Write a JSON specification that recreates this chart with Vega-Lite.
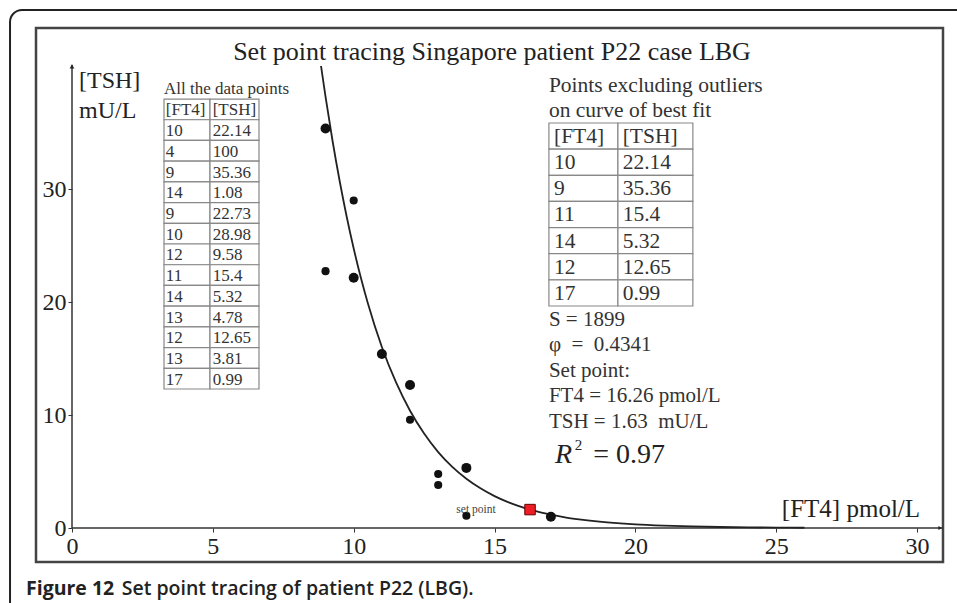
{
  "$schema": "https://vega.github.io/schema/vega-lite/v6.json",
  "width": 907,
  "height": 534,
  "autosize": {"type": "none"},
  "padding": {"left": 36, "top": 28, "right": 14, "bottom": 41},
  "background": "white",
  "config": {"view": {"stroke": "#444", "strokeWidth": 2.5}, "font": "Liberation Serif"},
  "data": {"values": [{}]},
  "datasets": {
    "all": [
      {"ft4": 10, "tsh": 22.14}, {"ft4": 4, "tsh": 100}, {"ft4": 9, "tsh": 35.36}, {"ft4": 14, "tsh": 1.08},
      {"ft4": 9, "tsh": 22.73}, {"ft4": 10, "tsh": 28.98}, {"ft4": 12, "tsh": 9.58}, {"ft4": 11, "tsh": 15.4},
      {"ft4": 14, "tsh": 5.32}, {"ft4": 13, "tsh": 4.78}, {"ft4": 12, "tsh": 12.65}, {"ft4": 13, "tsh": 3.81},
      {"ft4": 17, "tsh": 0.99}
    ],
    "fit": [
      {"ft4": 10, "tsh": 22.14}, {"ft4": 9, "tsh": 35.36}, {"ft4": 11, "tsh": 15.4},
      {"ft4": 14, "tsh": 5.32}, {"ft4": 12, "tsh": 12.65}, {"ft4": 17, "tsh": 0.99}
    ],
    "curve": [
      {"ft4": 8.84, "tsh": 40.9}, {"ft4": 9, "tsh": 38.17}, {"ft4": 9.25, "tsh": 34.25}, {"ft4": 9.5, "tsh": 30.73},
      {"ft4": 9.75, "tsh": 27.57}, {"ft4": 10, "tsh": 24.73}, {"ft4": 10.25, "tsh": 22.19}, {"ft4": 10.5, "tsh": 19.91},
      {"ft4": 11, "tsh": 16.02}, {"ft4": 11.5, "tsh": 12.9}, {"ft4": 12, "tsh": 10.38}, {"ft4": 12.5, "tsh": 8.36},
      {"ft4": 13, "tsh": 6.72}, {"ft4": 13.5, "tsh": 5.41}, {"ft4": 14, "tsh": 4.36}, {"ft4": 14.5, "tsh": 3.51},
      {"ft4": 15, "tsh": 2.82}, {"ft4": 15.5, "tsh": 2.27}, {"ft4": 16, "tsh": 1.83}, {"ft4": 16.5, "tsh": 1.47},
      {"ft4": 17, "tsh": 1.19}, {"ft4": 17.5, "tsh": 0.95}, {"ft4": 18, "tsh": 0.77}, {"ft4": 19, "tsh": 0.5},
      {"ft4": 20, "tsh": 0.32}, {"ft4": 21, "tsh": 0.21}, {"ft4": 22, "tsh": 0.135}, {"ft4": 23, "tsh": 0.088},
      {"ft4": 24, "tsh": 0.057}, {"ft4": 25, "tsh": 0.037}, {"ft4": 26, "tsh": 0.024}
    ],
    "setpoint": [{"ft4": 16.26, "tsh": 1.63}],
    "tab1": [
      {"row": 0, "a": "[FT4]", "b": "[TSH]"},
      {"row": 1, "a": "10", "b": "22.14"}, {"row": 2, "a": "4", "b": "100"}, {"row": 3, "a": "9", "b": "35.36"},
      {"row": 4, "a": "14", "b": "1.08"}, {"row": 5, "a": "9", "b": "22.73"}, {"row": 6, "a": "10", "b": "28.98"},
      {"row": 7, "a": "12", "b": "9.58"}, {"row": 8, "a": "11", "b": "15.4"}, {"row": 9, "a": "14", "b": "5.32"},
      {"row": 10, "a": "13", "b": "4.78"}, {"row": 11, "a": "12", "b": "12.65"}, {"row": 12, "a": "13", "b": "3.81"},
      {"row": 13, "a": "17", "b": "0.99"}
    ],
    "tab2": [
      {"row": 0, "a": "[FT4]", "b": "[TSH]"},
      {"row": 1, "a": "10", "b": "22.14"}, {"row": 2, "a": "9", "b": "35.36"}, {"row": 3, "a": "11", "b": "15.4"},
      {"row": 4, "a": "14", "b": "5.32"}, {"row": 5, "a": "12", "b": "12.65"}, {"row": 6, "a": "17", "b": "0.99"}
    ]
  },
  "layer": [
    {
      "layer": [
        {
          "mark": {"type": "rect", "fill": null, "stroke": "#222", "strokeWidth": 2, "cornerRadius": 12, "clip": false},
          "encoding": {
            "x": {"datum": -2.2, "type": "quantitative", "title": null, "scale": {"domain": [-1.278, 30.92], "nice": false, "zero": false}},
            "x2": {"datum": 33.5},
            "y": {"datum": 45.84, "type": "quantitative", "title": null, "scale": {"domain": [-3.009, 44.25], "nice": false, "zero": false}},
            "y2": {"datum": -12}
          }
        },
        {
          "data": {"name": "all"},
          "mark": {"type": "circle", "size": 66, "color": "#111", "opacity": 1, "clip": true},
          "encoding": {
            "x": {"field": "ft4", "type": "quantitative", "title": null,
              "scale": {"domain": [-1.278, 30.92], "nice": false, "zero": false},
              "axis": {"orient": "bottom", "offset": -34, "domain": false, "grid": false, "values": [0, 5, 10, 15, 20, 25, 30],
                "tickSize": 4, "tickColor": "#333", "tickWidth": 1, "labelFont": "Liberation Serif", "labelFontSize": 24,
                "labelColor": "#222", "labelPadding": 2, "title": null}},
            "y": {"field": "tsh", "type": "quantitative", "title": null,
              "scale": {"domain": [-3.009, 44.25], "nice": false, "zero": false},
              "axis": {"orient": "left", "offset": -36, "domain": false, "grid": false, "values": [0, 10, 20, 30],
                "tickSize": 4, "tickColor": "#333", "tickWidth": 1, "labelFont": "Liberation Serif", "labelFontSize": 24,
                "labelColor": "#222", "labelPadding": 2, "title": null}}
          }
        },
        {
          "mark": {"type": "rule", "color": "#333", "strokeWidth": 1.5},
          "encoding": {
            "x": {"datum": 0, "type": "quantitative", "title": null, "scale": {"domain": [-1.278, 30.92], "nice": false, "zero": false}},
            "x2": {"datum": 30.92},
            "y": {"datum": 0, "type": "quantitative", "title": null, "scale": {"domain": [-3.009, 44.25], "nice": false, "zero": false}}
          }
        },
        {
          "mark": {"type": "rule", "color": "#333", "strokeWidth": 1.5},
          "encoding": {
            "x": {"datum": 0, "type": "quantitative", "title": null, "scale": {"domain": [-1.278, 30.92], "nice": false, "zero": false}},
            "y": {"datum": 0, "type": "quantitative", "title": null, "scale": {"domain": [-3.009, 44.25], "nice": false, "zero": false}},
            "y2": {"datum": 41.0}
          }
        },
        {
          "mark": {"type": "point", "shape": "triangle-up", "size": 22, "filled": true, "color": "#222", "opacity": 1},
          "encoding": {
            "x": {"datum": 0, "type": "quantitative", "title": null, "scale": {"domain": [-1.278, 30.92], "nice": false, "zero": false}},
            "y": {"datum": 40.85, "type": "quantitative", "title": null, "scale": {"domain": [-3.009, 44.25], "nice": false, "zero": false}}
          }
        },
        {
          "mark": {"type": "point", "shape": "triangle-right", "size": 18, "filled": true, "color": "#222", "opacity": 1},
          "encoding": {
            "x": {"datum": 30.82, "type": "quantitative", "title": null, "scale": {"domain": [-1.278, 30.92], "nice": false, "zero": false}},
            "y": {"datum": 0, "type": "quantitative", "title": null, "scale": {"domain": [-3.009, 44.25], "nice": false, "zero": false}}
          }
        },
        {
          "data": {"name": "curve"},
          "mark": {"type": "line", "color": "#222", "strokeWidth": 1.8, "interpolate": "monotone"},
          "encoding": {
            "x": {"field": "ft4", "type": "quantitative", "title": null, "scale": {"domain": [-1.278, 30.92], "nice": false, "zero": false}},
            "y": {"field": "tsh", "type": "quantitative", "title": null, "scale": {"domain": [-3.009, 44.25], "nice": false, "zero": false}}
          }
        },
        {
          "data": {"name": "fit"},
          "mark": {"type": "circle", "size": 100, "color": "#111", "opacity": 1},
          "encoding": {
            "x": {"field": "ft4", "type": "quantitative", "title": null, "scale": {"domain": [-1.278, 30.92], "nice": false, "zero": false}},
            "y": {"field": "tsh", "type": "quantitative", "title": null, "scale": {"domain": [-3.009, 44.25], "nice": false, "zero": false}}
          }
        },
        {
          "data": {"name": "setpoint"},
          "mark": {"type": "square", "size": 110, "fill": "#ee1c24", "stroke": "#600", "strokeWidth": 1, "opacity": 1},
          "encoding": {
            "x": {"field": "ft4", "type": "quantitative", "title": null, "scale": {"domain": [-1.278, 30.92], "nice": false, "zero": false}},
            "y": {"field": "tsh", "type": "quantitative", "title": null, "scale": {"domain": [-3.009, 44.25], "nice": false, "zero": false}}
          }
        },
        {
          "mark": {"type": "text", "text": "set point", "align": "center", "baseline": "alphabetic", "fontSize": 11.5, "color": "#444"},
          "encoding": {
            "x": {"datum": 14.34, "type": "quantitative", "title": null, "scale": {"domain": [-1.278, 30.92], "nice": false, "zero": false}},
            "y": {"datum": 1.33, "type": "quantitative", "title": null, "scale": {"domain": [-3.009, 44.25], "nice": false, "zero": false}}
          }
        },
        {
          "mark": {"type": "text", "text": "Set point tracing Singapore patient P22 case LBG", "align": "center", "baseline": "alphabetic", "fontSize": 26, "color": "#222"},
          "encoding": {
            "x": {"datum": 14.91, "type": "quantitative", "title": null, "scale": {"domain": [-1.278, 30.92], "nice": false, "zero": false}},
            "y": {"datum": 41.4, "type": "quantitative", "title": null, "scale": {"domain": [-3.009, 44.25], "nice": false, "zero": false}}
          }
        },
        {
          "mark": {"type": "text", "text": ["[TSH]", "mU/L"], "lineHeight": 30, "align": "left", "baseline": "alphabetic", "fontSize": 24, "color": "#222"},
          "encoding": {
            "x": {"datum": 0.25, "type": "quantitative", "title": null, "scale": {"domain": [-1.278, 30.92], "nice": false, "zero": false}},
            "y": {"datum": 38.94, "type": "quantitative", "title": null, "scale": {"domain": [-3.009, 44.25], "nice": false, "zero": false}}
          }
        },
        {
          "mark": {"type": "text", "text": "All the data points", "align": "left", "baseline": "alphabetic", "fontSize": 17, "color": "#333"},
          "encoding": {
            "x": {"datum": 3.266, "type": "quantitative", "title": null, "scale": {"domain": [-1.278, 30.92], "nice": false, "zero": false}},
            "y": {"datum": 38.41, "type": "quantitative", "title": null, "scale": {"domain": [-3.009, 44.25], "nice": false, "zero": false}}
          }
        },
        {
          "mark": {"type": "text", "text": ["Points excluding outliers", "on curve of best fit"], "lineHeight": 25, "align": "left", "baseline": "alphabetic", "fontSize": 21.5, "color": "#333"},
          "encoding": {
            "x": {"datum": 16.93, "type": "quantitative", "title": null, "scale": {"domain": [-1.278, 30.92], "nice": false, "zero": false}},
            "y": {"datum": 38.58, "type": "quantitative", "title": null, "scale": {"domain": [-3.009, 44.25], "nice": false, "zero": false}}
          }
        },
        {
          "mark": {"type": "text", "text": ["S = 1899", "φ\u00a0\u00a0=\u00a0\u00a00.4341", "Set point:", "FT4 = 16.26 pmol/L", "TSH = 1.63\u00a0\u00a0mU/L"], "lineHeight": 25.4, "align": "left", "baseline": "alphabetic", "fontSize": 21, "color": "#333"},
          "encoding": {
            "x": {"datum": 16.93, "type": "quantitative", "title": null, "scale": {"domain": [-1.278, 30.92], "nice": false, "zero": false}},
            "y": {"datum": 17.88, "type": "quantitative", "title": null, "scale": {"domain": [-3.009, 44.25], "nice": false, "zero": false}}
          }
        },
        {
          "mark": {"type": "text", "text": "R", "align": "left", "baseline": "alphabetic", "fontSize": 28, "fontStyle": "italic", "color": "#222"},
          "encoding": {
            "x": {"datum": 17.146, "type": "quantitative", "title": null, "scale": {"domain": [-1.278, 30.92], "nice": false, "zero": false}},
            "y": {"datum": 5.726, "type": "quantitative", "title": null, "scale": {"domain": [-3.009, 44.25], "nice": false, "zero": false}}
          }
        },
        {
          "mark": {"type": "text", "text": "2", "align": "left", "baseline": "alphabetic", "fontSize": 15, "color": "#222"},
          "encoding": {
            "x": {"datum": 17.85, "type": "quantitative", "title": null, "scale": {"domain": [-1.278, 30.92], "nice": false, "zero": false}},
            "y": {"datum": 6.9, "type": "quantitative", "title": null, "scale": {"domain": [-3.009, 44.25], "nice": false, "zero": false}}
          }
        },
        {
          "mark": {"type": "text", "text": "= 0.97", "align": "left", "baseline": "alphabetic", "fontSize": 28, "color": "#222"},
          "encoding": {
            "x": {"datum": 18.5, "type": "quantitative", "title": null, "scale": {"domain": [-1.278, 30.92], "nice": false, "zero": false}},
            "y": {"datum": 5.726, "type": "quantitative", "title": null, "scale": {"domain": [-3.009, 44.25], "nice": false, "zero": false}}
          }
        },
        {
          "mark": {"type": "text", "text": "[FT4] pmol/L", "align": "left", "baseline": "alphabetic", "fontSize": 25, "color": "#222"},
          "encoding": {
            "x": {"datum": 25.2, "type": "quantitative", "title": null, "scale": {"domain": [-1.278, 30.92], "nice": false, "zero": false}},
            "y": {"datum": 1.0, "type": "quantitative", "title": null, "scale": {"domain": [-3.009, 44.25], "nice": false, "zero": false}}
          }
        },
        {
          "mark": {"type": "text", "text": "Figure 12", "align": "left", "baseline": "alphabetic", "font": "Open Sans", "fontWeight": "bold", "fontSize": 19.5, "color": "#222"},
          "encoding": {
            "x": {"datum": -1.633, "type": "quantitative", "title": null, "scale": {"domain": [-1.278, 30.92], "nice": false, "zero": false}},
            "y": {"datum": -5.93, "type": "quantitative", "title": null, "scale": {"domain": [-3.009, 44.25], "nice": false, "zero": false}}
          }
        },
        {
          "mark": {"type": "text", "text": "Set point tracing of patient P22 (LBG).", "align": "left", "baseline": "alphabetic", "font": "Open Sans", "fontWeight": 600, "fontSize": 19.5, "color": "#222"},
          "encoding": {
            "x": {"datum": 1.764, "type": "quantitative", "title": null, "scale": {"domain": [-1.278, 30.92], "nice": false, "zero": false}},
            "y": {"datum": -5.93, "type": "quantitative", "title": null, "scale": {"domain": [-3.009, 44.25], "nice": false, "zero": false}}
          }
        }
      ]
    },
    {
      "data": {"name": "tab1"},
      "layer": [
        {
          "mark": {"type": "rect", "fill": "white", "stroke": "#888", "strokeWidth": 1.2},
          "encoding": {
            "x": {"datum": 3.266, "type": "quantitative", "title": null, "scale": {"domain": [-1.278, 30.92], "nice": false, "zero": false}},
            "x2": {"datum": 4.899},
            "y": {"field": "row", "type": "ordinal", "axis": null, "scale": {"domain": [-3, -2, -1, 0, 1, 2, 3, 4, 5, 6, 7, 8, 9, 10, 11, 12, 13, 14, 15, 16, 17, 18, 19, 20, 21], "paddingInner": 0, "paddingOuter": 0.39, "align": 0.55}}
          }
        },
        {
          "mark": {"type": "rect", "fill": "white", "stroke": "#888", "strokeWidth": 1.2},
          "encoding": {
            "x": {"datum": 4.899, "type": "quantitative", "title": null, "scale": {"domain": [-1.278, 30.92], "nice": false, "zero": false}},
            "x2": {"datum": 6.638},
            "y": {"field": "row", "type": "ordinal", "axis": null, "scale": {"domain": [-3, -2, -1, 0, 1, 2, 3, 4, 5, 6, 7, 8, 9, 10, 11, 12, 13, 14, 15, 16, 17, 18, 19, 20, 21], "paddingInner": 0, "paddingOuter": 0.39, "align": 0.55}}
          }
        },
        {
          "mark": {"type": "text", "align": "left", "baseline": "middle", "fontSize": 17, "color": "#333", "dy": 1},
          "encoding": {
            "x": {"datum": 3.33, "type": "quantitative", "title": null, "scale": {"domain": [-1.278, 30.92], "nice": false, "zero": false}},
            "y": {"field": "row", "type": "ordinal", "axis": null, "scale": {"domain": [-3, -2, -1, 0, 1, 2, 3, 4, 5, 6, 7, 8, 9, 10, 11, 12, 13, 14, 15, 16, 17, 18, 19, 20, 21], "paddingInner": 0, "paddingOuter": 0.39, "align": 0.55}},
            "text": {"field": "a", "type": "nominal"}
          }
        },
        {
          "mark": {"type": "text", "align": "left", "baseline": "middle", "fontSize": 17, "color": "#333", "dy": 1},
          "encoding": {
            "x": {"datum": 4.994, "type": "quantitative", "title": null, "scale": {"domain": [-1.278, 30.92], "nice": false, "zero": false}},
            "y": {"field": "row", "type": "ordinal", "axis": null, "scale": {"domain": [-3, -2, -1, 0, 1, 2, 3, 4, 5, 6, 7, 8, 9, 10, 11, 12, 13, 14, 15, 16, 17, 18, 19, 20, 21], "paddingInner": 0, "paddingOuter": 0.39, "align": 0.55}},
            "text": {"field": "b", "type": "nominal"}
          }
        }
      ]
    },
    {
      "data": {"name": "tab2"},
      "layer": [
        {
          "mark": {"type": "rect", "fill": "white", "stroke": "#888", "strokeWidth": 1.2},
          "encoding": {
            "x": {"datum": 16.93, "type": "quantitative", "title": null, "scale": {"domain": [-1.278, 30.92], "nice": false, "zero": false}},
            "x2": {"datum": 19.38},
            "y": {"field": "row", "type": "ordinal", "axis": null, "scale": {"domain": [-3, -2, -1, 0, 1, 2, 3, 4, 5, 6, 7, 8, 9, 10, 11, 12, 13, 14, 15], "paddingInner": 0, "paddingOuter": 0.714, "align": 0.444}}
          }
        },
        {
          "mark": {"type": "rect", "fill": "white", "stroke": "#888", "strokeWidth": 1.2},
          "encoding": {
            "x": {"datum": 19.38, "type": "quantitative", "title": null, "scale": {"domain": [-1.278, 30.92], "nice": false, "zero": false}},
            "x2": {"datum": 22.04},
            "y": {"field": "row", "type": "ordinal", "axis": null, "scale": {"domain": [-3, -2, -1, 0, 1, 2, 3, 4, 5, 6, 7, 8, 9, 10, 11, 12, 13, 14, 15], "paddingInner": 0, "paddingOuter": 0.714, "align": 0.444}}
          }
        },
        {
          "mark": {"type": "text", "align": "left", "baseline": "middle", "fontSize": 21.5, "color": "#333", "dy": 1},
          "encoding": {
            "x": {"datum": 17.11, "type": "quantitative", "title": null, "scale": {"domain": [-1.278, 30.92], "nice": false, "zero": false}},
            "y": {"field": "row", "type": "ordinal", "axis": null, "scale": {"domain": [-3, -2, -1, 0, 1, 2, 3, 4, 5, 6, 7, 8, 9, 10, 11, 12, 13, 14, 15], "paddingInner": 0, "paddingOuter": 0.714, "align": 0.444}},
            "text": {"field": "a", "type": "nominal"}
          }
        },
        {
          "mark": {"type": "text", "align": "left", "baseline": "middle", "fontSize": 21.5, "color": "#333", "dy": 1},
          "encoding": {
            "x": {"datum": 19.55, "type": "quantitative", "title": null, "scale": {"domain": [-1.278, 30.92], "nice": false, "zero": false}},
            "y": {"field": "row", "type": "ordinal", "axis": null, "scale": {"domain": [-3, -2, -1, 0, 1, 2, 3, 4, 5, 6, 7, 8, 9, 10, 11, 12, 13, 14, 15], "paddingInner": 0, "paddingOuter": 0.714, "align": 0.444}},
            "text": {"field": "b", "type": "nominal"}
          }
        }
      ]
    }
  ],
  "resolve": {"scale": {"y": "independent"}, "axis": {"y": "independent"}}
}
